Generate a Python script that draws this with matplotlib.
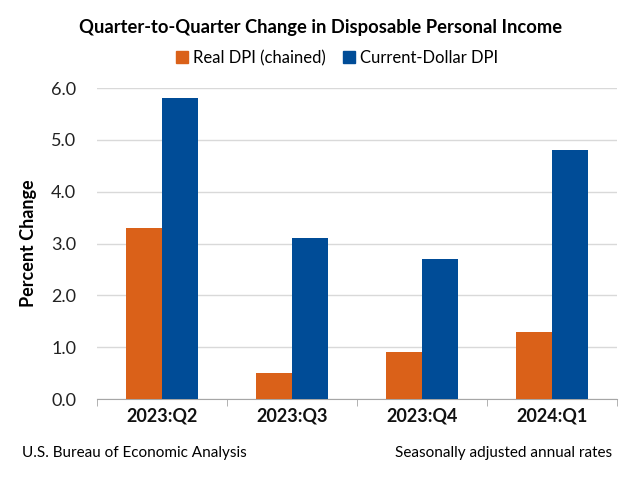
import matplotlib.pyplot as plt
import numpy as np
from matplotlib.patches import Patch

plt.rcParams['font.family'] = ['Lato', 'DejaVu Sans']

# data
quarters = ['2023:Q2', '2023:Q3', '2023:Q4', '2024:Q1']
real_dpi = [3.3, 0.5, 0.9, 1.3]
current_dpi = [5.8, 3.1, 2.7, 4.8]
series_names = ['Real DPI (chained)', 'Current-Dollar DPI']
colors = ['#DA6119', '#004C97']

fig = plt.figure(figsize=(6.42, 4.84), dpi=100)
ax = fig.add_axes([0.151, 0.1756, 0.81, 0.6425])

x = np.arange(len(quarters))
w = 0.28
ax.bar(x - w / 2, real_dpi, w, color=colors[0], zorder=3)
ax.bar(x + w / 2, current_dpi, w, color=colors[1], zorder=3)

ax.set_xlim(-0.5, len(quarters) - 0.5)
ax.set_ylim(0, 6)
ax.set_yticks(np.arange(0, 6.1, 1))
ax.set_yticklabels([f'{v:.1f}' for v in np.arange(0, 6.1, 1)], fontsize=13, color='#222222')
ax.yaxis.grid(True, color='#D9D9D9', linewidth=1, zorder=0)
ax.tick_params(axis='y', length=0, pad=15)

# category labels + boundary ticks
ax.set_xticks(x)
ax.set_xticklabels(quarters, fontsize=13, fontweight='bold', color='#111111')
ax.tick_params(axis='x', length=0, pad=6)
ax.set_xticks(np.arange(-0.5, len(quarters)), minor=True)
ax.tick_params(axis='x', which='minor', length=5, color='#A6A6A6')

for s in ['top', 'right', 'left']:
    ax.spines[s].set_visible(False)
ax.spines['bottom'].set_color('#A6A6A6')

ax.set_ylabel('Percent Change', fontsize=13, fontweight='bold', labelpad=10)

fig.text(0.5, 0.944, 'Quarter-to-Quarter Change in Disposable Personal Income',
         ha='center', va='center', fontsize=13.2, fontweight='bold')

handles = [Patch(color=c) for c in colors]
fig.legend(handles, series_names, loc='center', bbox_to_anchor=(0.525, 0.88),
           ncol=2, frameon=False, fontsize=12, handlelength=0.75, handleheight=0.75,
           handletextpad=0.3, columnspacing=1.0)

fig.text(0.034, 0.065, 'U.S. Bureau of Economic Analysis', fontsize=11, va='center')
fig.text(0.953, 0.065, 'Seasonally adjusted annual rates', fontsize=11, va='center', ha='right')

fig.savefig('out.png', dpi=100)
